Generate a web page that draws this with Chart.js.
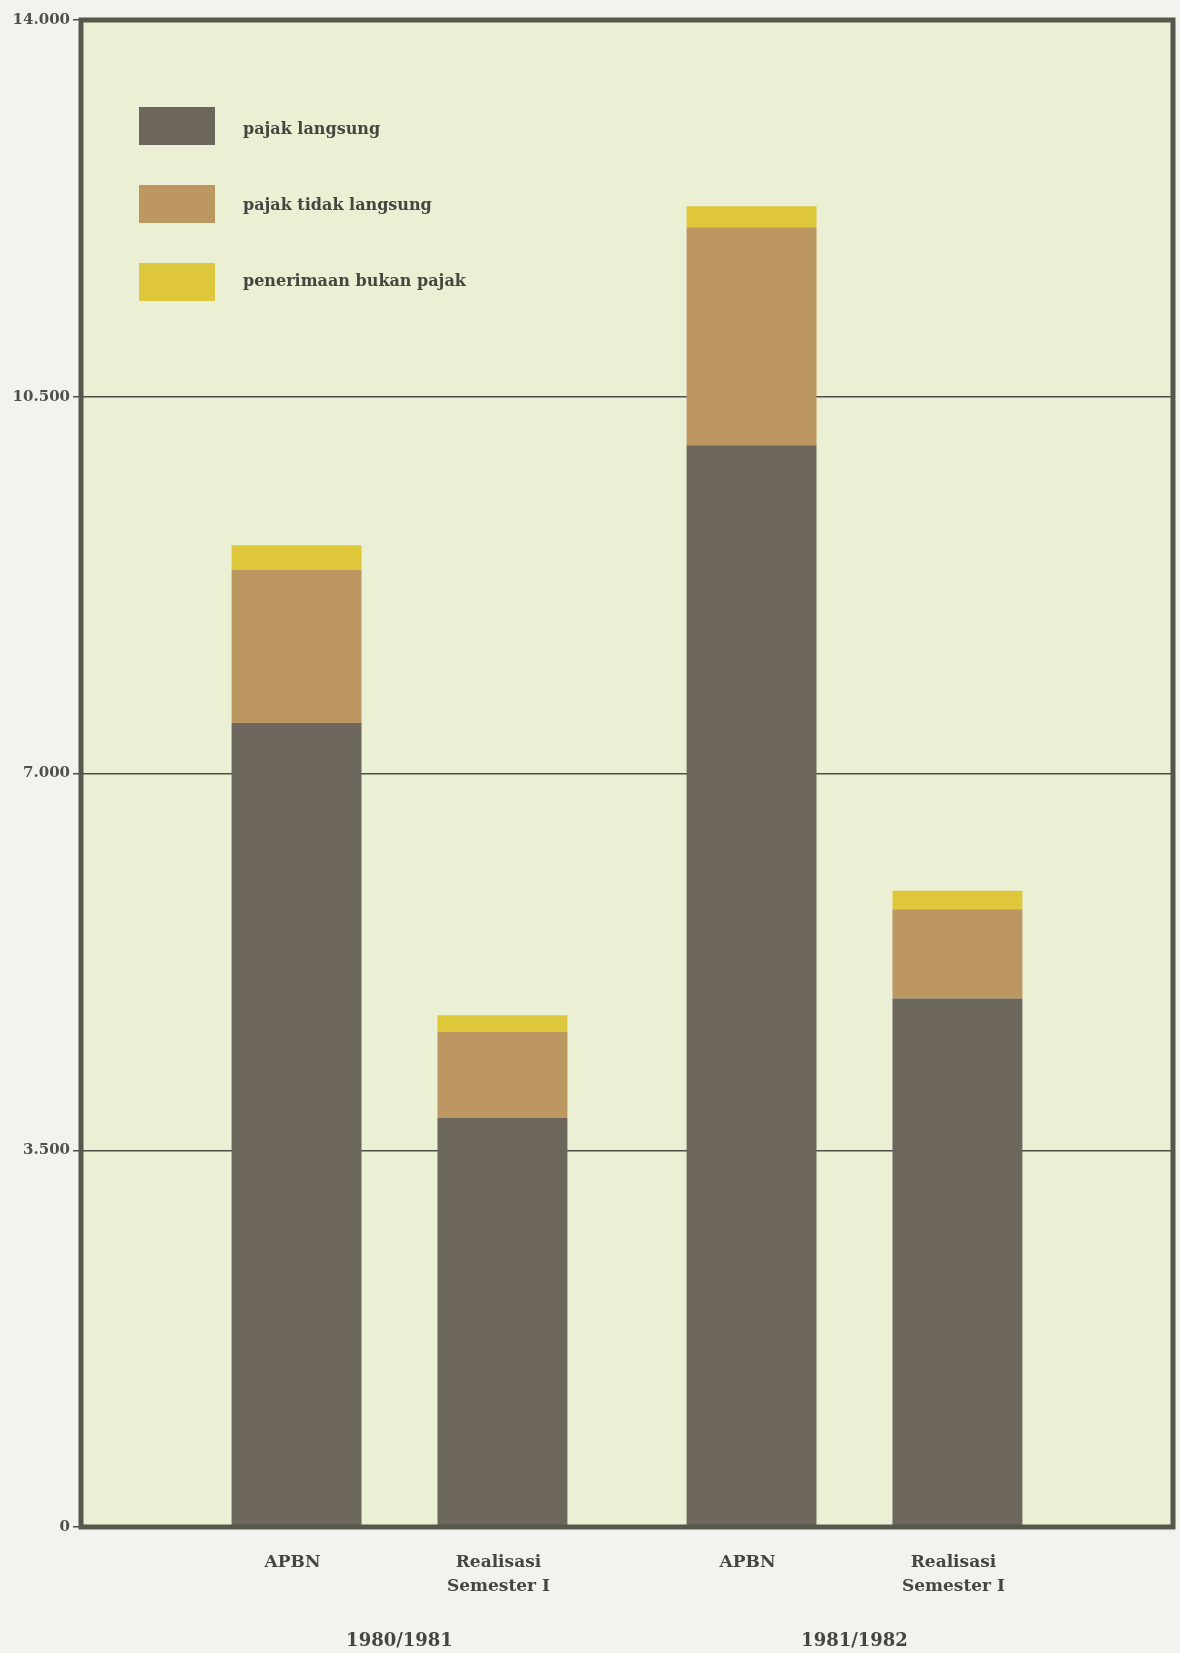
<!DOCTYPE html>
<html><head><meta charset="utf-8">
<script src="https://cdn.jsdelivr.net/npm/chart.js@4.4.1/dist/chart.umd.min.js"></script>
<style>html,body{margin:0;padding:0;background:#f2f3ee;} canvas{display:block;}</style>
</head><body>
<canvas id="c" width="1180" height="1653"></canvas>
<script>
// ---- data ----
const years = ['1980/1981', '1981/1982'];
const stackNames = ['APBN', 'Realisasi Semester I'];
const stackLabelLines = [['APBN'], ['Realisasi', 'Semester I']];
const seriesNames = ['pajak langsung', 'pajak tidak langsung', 'penerimaan bukan pajak'];

const apbnLangsung       = [7470, 10050];
const apbnTidakLangsung  = [1420, 2025];
const apbnBukanPajak     = [230, 195];
const realLangsung       = [3800, 4910];
const realTidakLangsung  = [800, 830];
const realBukanPajak     = [155, 170];

const yTickValues = [0, 3500, 7000, 10500, 14000];
const yTickLabels = ['0', '3.500', '7.000', '10.500', '14.000'];

// ---- styles ----
const seriesColors = ['#6c665d', '#bc9761', '#dfc73b'];
const FONT = 'DejaVu Serif';
const TEXT = '#46463f';

const valuesByStack = [
  [apbnLangsung, apbnTidakLangsung, apbnBukanPajak],
  [realLangsung, realTidakLangsung, realBukanPajak]
];

const datasets = [];
stackNames.forEach((stack, s) => {
  seriesNames.forEach((name, k) => {
    datasets.push({
      label: name,
      stack: stack,
      data: years.map((y, i) => ({ x: i + 1, y: valuesByStack[s][k][i] })),
      backgroundColor: seriesColors[k],
      borderWidth: 0,
      categoryPercentage: 0.905,
      barPercentage: 0.631
    });
  });
});

const decor = {
  id: 'decor',
  beforeDraw(chart) {
    const { ctx, chartArea: a } = chart;
    ctx.save();
    ctx.fillStyle = '#f2f3ee';
    ctx.fillRect(0, 0, chart.width, chart.height);
    ctx.fillStyle = '#ebf0d5';
    ctx.fillRect(a.left, a.top, a.right - a.left, a.bottom - a.top);
    ctx.restore();
  },
  afterDatasetsDraw(chart) {
    const { ctx, chartArea: a } = chart;
    ctx.save();
    // frame
    ctx.strokeStyle = '#56584b';
    ctx.lineWidth = 5;
    ctx.strokeRect(a.left, a.top, a.right - a.left, a.bottom - a.top);

    // legend
    const bx = a.left + 58, by = a.top + 87, bw = 76, bh = 38, gap = 78;
    ctx.font = 'bold 16px "' + FONT + '"';
    ctx.textBaseline = 'middle';
    ctx.textAlign = 'left';
    seriesNames.forEach((name, k) => {
      const y = by + k * gap;
      ctx.fillStyle = seriesColors[k];
      ctx.fillRect(bx, y, bw, bh);
      ctx.fillStyle = TEXT;
      ctx.fillText(name, bx + bw + 28, y + bh / 2 + 4 - k * 2);
    });

    // stack labels under each bar
    ctx.font = 'bold 17px "' + FONT + '"';
    ctx.textAlign = 'center';
    ctx.textBaseline = 'alphabetic';
    ctx.fillStyle = TEXT;
    stackNames.forEach((stack, s) => {
      const meta = chart.getDatasetMeta(s * seriesNames.length);
      meta.data.forEach(bar => {
        stackLabelLines[s].forEach((line, li) => {
          ctx.fillText(line, bar.x - 4, a.bottom + 40 + li * 24);
        });
      });
    });
    ctx.restore();
  }
};

new Chart(document.getElementById('c'), {
  type: 'bar',
  data: { datasets },
  plugins: [decor],
  options: {
    responsive: false,
    animation: false,
    layout: { padding: { top: 20, right: 7, left: 0, bottom: 0 } },
    plugins: { legend: { display: false }, tooltip: { enabled: false } },
    scales: {
      x: {
        type: 'linear',
        stacked: true,
        offset: false,
        min: 0.3,
        max: 2.7,
        afterBuildTicks: (scale) => { scale.ticks = years.map((y, i) => ({ value: i + 1 })); },
        afterFit: (scale) => { scale.height = 126; },
        grid: { display: false, drawTicks: false, offset: false },
        border: { display: false },
        ticks: {
          padding: 104,
          color: TEXT,
          font: { family: FONT, size: 18, weight: 'bold' },
          callback: (v) => years[Math.round(v) - 1] || ''
        }
      },
      y: {
        stacked: true,
        min: 0,
        max: 14000,
        afterBuildTicks: (scale) => { scale.ticks = yTickValues.map(v => ({ value: v })); },
        afterFit: (scale) => { scale.width = 81; },
        border: { display: false },
        grid: { color: '#4e4f46', lineWidth: 1.5, tickLength: 8, drawTicks: true },
        ticks: {
          padding: 3,
          color: '#505049',
          font: { family: FONT, size: 15, weight: 'bold' },
          callback: (v) => yTickLabels[yTickValues.indexOf(v)]
        }
      }
    }
  }
});
</script>
</body></html>
